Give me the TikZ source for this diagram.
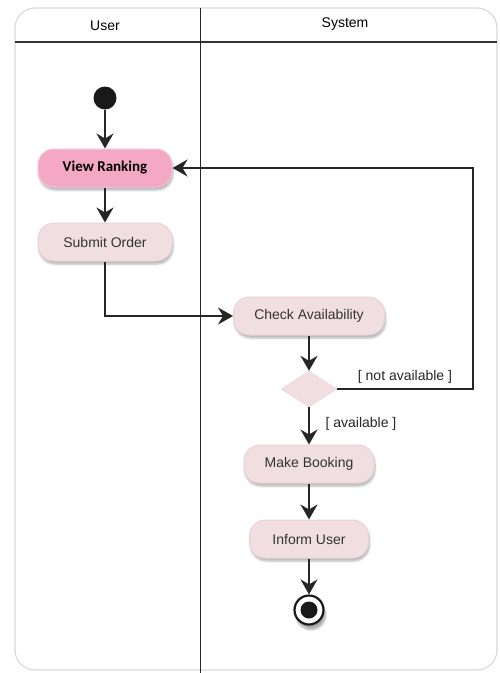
\documentclass[tikz,border=0pt]{standalone}
\usepackage{fontspec}
\setmainfont{Liberation Sans}
\newfontfamily\calfont{Carlito}
\usetikzlibrary{positioning, shapes.geometric, arrows.meta, shadows.blur}

\definecolor{actfill}{HTML}{F1DEE0}
\definecolor{actdraw}{HTML}{EAD3D6}
\definecolor{hotfill}{HTML}{F5A8C3}
\definecolor{hotdraw}{HTML}{F3C3D3}

\begin{document}
\begin{tikzpicture}[
  x=1pt, y=-1pt,
  font=\fontsize{14}{16}\selectfont,
  action/.style={
    draw=#1draw, fill=#1fill, line width=1pt, rounded corners=16pt,
    minimum height=38pt, inner xsep=10pt, text=black!80,
    blur shadow={shadow xshift=1pt, shadow yshift=-3pt,
                 shadow blur steps=6, shadow opacity=30}
  },
  flow/.style={line width=1.7pt, black!85,
    -{Stealth[length=15pt, width=17pt, inset=5pt]}},
  guard/.style={text=black!85, inner sep=1pt}
]

\useasboundingbox (0,0) rectangle (500,673);

% ── Swimlanes ────────────────────────────────────────────────────────────────
\draw[gray!30, line width=1.2pt, rounded corners=20pt] (15,8) rectangle (497,670);
\draw[black!80, line width=1.8pt] (15,42) -- (497,42);
\draw[black!85, line width=1pt] (200,8) -- (200,673);
\node (userlab) at (105,26) {User};
\node (syslab) at (345,24) {System};

% ── User lane ────────────────────────────────────────────────────────────────
\node[circle, fill=black!90, minimum size=23pt, inner sep=0pt] (start) at (105,98) {};

\node[action=hot, minimum width=134pt, font=\calfont\fontsize{15}{17}\selectfont\bfseries,
      text=black] (view) at (105,168) {View Ranking};

\node[action=act, minimum width=134pt] (submit) at (105,242) {Submit Order};

% ── System lane ──────────────────────────────────────────────────────────────
\node[action=act, minimum width=151pt] (check) at (309,316) {Check Availability};

\node[diamond, aspect=1.55, fill=actfill, draw=actdraw, inner sep=0pt,
      minimum width=56pt, minimum height=36pt] (avail) at (309,389) {};

\node[action=act, minimum width=130pt] (booking) at (309,464) {Make Booking};

\node[action=act, minimum width=119pt] (inform) at (309,539) {Inform User};

\node[circle, draw=black!90, fill=white, line width=2.2pt, minimum size=29pt, inner sep=0pt,
      blur shadow={shadow xshift=2pt, shadow yshift=-5pt,
                   shadow blur steps=8, shadow opacity=35}] (finish) at (309,610) {};
\node[circle, fill=black!90, minimum size=17pt, inner sep=0pt] (finishdot) at (finish) {};

\coordinate (loopR) at (473,168);

% ── Flows ────────────────────────────────────────────────────────────────────
\draw[flow] (start) -- (view);
\draw[flow] (view) -- (submit);
\draw[flow] (submit.south) |- (check.west);
\draw[flow] (check) -- (avail);
\draw[flow] (avail.east) -- (avail.east -| loopR) -- (loopR) -- (view.east);
\draw[flow] (avail) -- (booking);
\draw[flow] (booking) -- (inform);
\draw[flow] (inform) -- (finish);

\node[guard] (notlab) at (405,377) {[ not available ]};
\node[guard] (yeslab) at (361,424) {[ available ]};

\end{tikzpicture}
\end{document}
